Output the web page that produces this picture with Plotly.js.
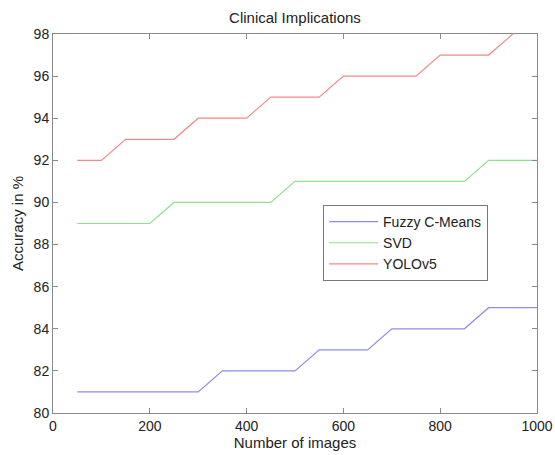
<!DOCTYPE html>
<html>
<head>
<meta charset="utf-8">
<script src="https://cdn.plot.ly/plotly-3.0.1.min.js"></script>
<style>html,body{margin:0;padding:0;background:#fff;}#chart{width:555px;height:455px;}</style>
</head>
<body>
<div id="chart"></div>
<script>
const numImages = [50,100,150,200,250,300,350,400,450,500,550,600,650,700,750,800,850,900,950,1000];
const fuzzyCMeans = [81,81,81,81,81,81,82,82,82,82,83,83,83,84,84,84,84,85,85,85];
const svd = [89,89,89,89,90,90,90,90,90,91,91,91,91,91,91,91,91,92,92,92];
const yolov5 = [92,92,93,93,93,94,94,94,95,95,95,96,96,96,96,97,97,97,98,99];
const xTicks = [0,200,400,600,800,1000];
const yTicks = [80,82,84,86,88,90,92,94,96,98];

const font = "Liberation Sans, Arial, Helvetica, sans-serif";
const traces = [
  {x: numImages, y: fuzzyCMeans, name: 'Fuzzy C-Means', mode: 'lines', line: {color: '#8c8cf0', width: 1.2}},
  {x: numImages, y: svd, name: 'SVD', mode: 'lines', line: {color: '#8fe08f', width: 1.2}},
  {x: numImages, y: yolov5, name: 'YOLOv5', mode: 'lines', line: {color: '#f28a8a', width: 1.2}}
];
const axisCommon = {
  showgrid: false, zeroline: false, showline: true, mirror: 'ticks',
  linecolor: '#8a8a8a', linewidth: 1, ticks: 'inside', ticklen: 5,
  tickcolor: '#8a8a8a', tickfont: {family: font, size: 14, color: '#222'}
};
const layout = {
  width: 555, height: 455,
  margin: {l: 53, r: 18, t: 34, b: 42},
  paper_bgcolor: '#fff', plot_bgcolor: '#fff',
  title: {text: 'Clinical Implications', font: {family: font, size: 15, color: '#222'}, x: 0.5315, xanchor: 'center', y: 0.962, yanchor: 'middle'},
  xaxis: Object.assign({}, axisCommon, {range: [0, 1000], tickvals: xTicks, ticktext: xTicks.map(String),
    title: {text: 'Number of images', font: {family: font, size: 15, color: '#222'}, standoff: 3}}),
  yaxis: Object.assign({}, axisCommon, {range: [80, 98], tickvals: yTicks, ticktext: yTicks.map(String),
    title: {text: 'Accuracy in %', font: {family: font, size: 15, color: '#222'}, standoff: 6}}),
  showlegend: true,
  legend: {x: 0.558, y: 0.549, xanchor: 'left', yanchor: 'top', bgcolor: '#fff', bordercolor: '#777', borderwidth: 1,
    font: {family: font, size: 14, color: '#222'}, tracegroupgap: 0, itemwidth: 49}
};
Plotly.newPlot('chart', traces, layout, {displayModeBar: false, staticPlot: true});
</script>
</body>
</html>
